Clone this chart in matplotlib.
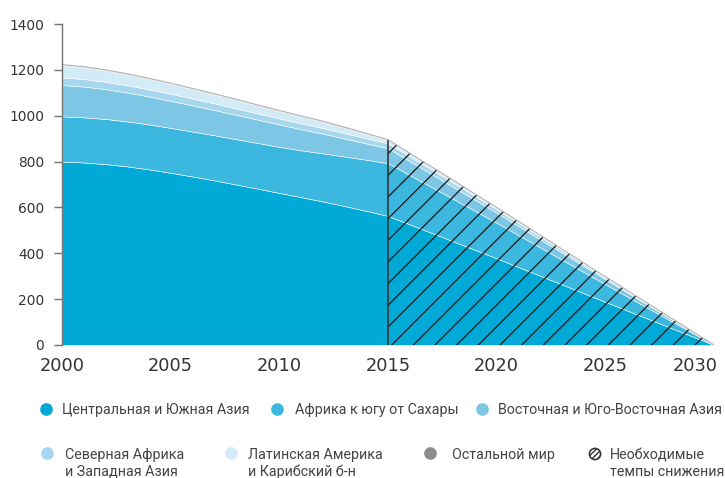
import matplotlib
matplotlib.use("Agg")
import matplotlib.pyplot as plt
import matplotlib.transforms as mtransforms
from matplotlib.lines import Line2D
from matplotlib.patches import Circle

# historic estimates 2000-2015, then required decline to 2030
years = [2000, 2001, 2002, 2003, 2004, 2005, 2006, 2007, 2008, 2009,
         2010, 2011, 2012, 2013, 2014, 2015, 2020, 2025, 2030]

central_south_asia = [800, 796, 789, 779, 766, 751, 735, 718, 700, 682,
                      663, 645, 626, 606, 585, 563, 378, 188, 0]
subsaharan_africa = [197, 197, 197, 196, 196, 196, 196, 197, 198, 199,
                     201, 204, 210, 216, 223, 230, 155, 77, 0]
east_se_asia = [137, 134, 130, 126, 122, 118, 114, 110, 106, 102,
                98, 92, 86, 78, 71, 65, 44, 22, 0]
north_africa_w_asia = [33, 33, 32, 32, 31, 31, 30, 29, 28, 27,
                       26, 25, 24, 24, 23, 22, 15, 7, 0]
latin_america = [53, 51, 49, 47, 45, 43, 41, 39, 37, 34,
                 32, 30, 27, 23, 18, 13, 6, 3, 0]
rest_of_world = [3, 3, 3, 3, 3, 3, 3, 3, 3, 3,
                 3, 3, 3, 3, 3, 3, 2, 1, 0]

series = [central_south_asia, subsaharan_africa, east_se_asia,
          north_africa_w_asia, latin_america, rest_of_world]
labels = ["Центральная и Южная Азия", "Африка к югу от Сахары",
          "Восточная и Юго-Восточная Азия", "Северная Африка\nи Западная Азия",
          "Латинская Америка\nи Карибский б-н", "Остальной мир"]
colors = ["#00a9d6", "#3cb8e0", "#7dc6e5", "#a6d7ee", "#d2ebf7", "#8c8c8c"]

proj_start = 2015
hatch_label = "Необходимые\nтемпы снижения"
yticks = [0, 200, 400, 600, 800, 1000, 1200, 1400]
xticks = [2000, 2005, 2010, 2015, 2020, 2025, 2030]

DPI = 130
W, H = 725, 478
plt.rcParams["hatch.linewidth"] = 0.75

fig = plt.figure(figsize=(W / DPI, H / DPI), dpi=DPI)
ax = fig.add_axes([62 / W, 133 / H, 652 / W, 321 / H])

ax.stackplot(years, *series, colors=colors, edgecolor="white", linewidth=0.3)

top = [sum(v) for v in zip(*series)]
i0 = years.index(proj_start)
ax.fill_between(years[i0:], 0, top[i0:], facecolor="none",
                edgecolor="#222222", hatch="//", linewidth=0)
ax.vlines(proj_start, 0, top[i0], color="#333333", linewidth=0.9)
ax.plot(years, top, color="#b0b0b0", linewidth=0.6)

ax.set_xlim(2000, 2030)
ax.set_ylim(0, 1400)
ax.set_yticks(yticks)
ax.set_xticks(xticks)
for s in ["top", "right", "bottom"]:
    ax.spines[s].set_visible(False)
ax.spines["left"].set_color("#777777")
ax.spines["left"].set_linewidth(0.8)
ax.tick_params(axis="y", length=4.4, width=0.8, color="#777777", pad=5.5,
               labelsize=7.6, labelcolor="#333333")
ax.tick_params(axis="x", length=0, pad=6.5, labelsize=9.8, labelcolor="#333333")
# last year label pushed inside the figure, as in the original
last = ax.get_xticklabels()[-1]
last.set_horizontalalignment("right")
last.set_transform(last.get_transform() + mtransforms.ScaledTranslation(
    4 / DPI, 0, fig.dpi_scale_trans))

legend_font = ["Roboto", "DejaVu Sans"]


def fx(px):
    return px / W


def fy(py):
    return 1 - py / H


def dot(px, py, color):
    fig.add_artist(Line2D([fx(px)], [fy(py)], transform=fig.transFigure,
                          marker="o", markersize=7, color=color,
                          markeredgewidth=0, linestyle="none"))


def label(px, py, text):
    fig.text(fx(px), fy(py), text, ha="left", va="baseline", fontsize=7.9,
             color="#444444", family=legend_font)


# row 1
row1 = [(46, 62), (277, 295), (482, 498)]
for (mx, tx), c, t in zip(row1, colors[:3], labels[:3]):
    dot(mx, 409, c)
    label(tx, 414, t)

# row 2 (two-line labels)
row2 = [(47, 65), (231, 248), (430, 452)]
for (mx, tx), c, t in zip(row2, colors[3:], labels[3:]):
    dot(mx, 453, c)
    lines = t.split("\n")
    label(tx, 459, lines[0])
    if len(lines) > 1:
        label(tx, 476, lines[1])

fig.add_artist(Circle((595 / DPI, (H - 454) / DPI), 5.6 / DPI,
                      transform=fig.dpi_scale_trans, facecolor="white",
                      edgecolor="#333333", linewidth=0.9, hatch="////////"))
hl = hatch_label.split("\n")
label(610, 459, hl[0])
label(610, 476, hl[1])

fig.savefig("out.png", dpi=DPI)
